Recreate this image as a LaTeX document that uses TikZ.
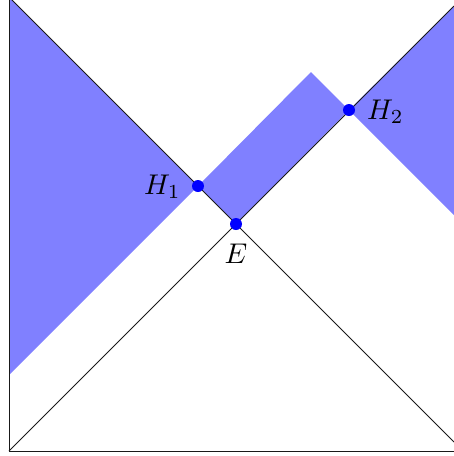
\documentclass[tikz,border=0pt]{standalone}
\begin{document}
\begin{tikzpicture}[x=1pt,y=-1pt,
  edge/.style={line width=0.9pt, black!90},
  region/.style={fill=blue!50},
  dot/.style={circle, fill=blue, inner sep=0pt, minimum size=12pt},
  lab/.style={inner sep=0pt}]
\useasboundingbox (0,0) rectangle (454,456);
% named points
\coordinate (BL) at (9,451);
\coordinate (BR) at (454,451);
\coordinate (TL) at (9,-3);
\coordinate (TR) at (454,6);
\coordinate (TLe) at (9,0);
\coordinate (DR) at (454,442);
\coordinate (E) at (236,224);
\coordinate (H1) at (198,186);
\coordinate (H2) at (349,110);
\coordinate (P) at (311,72);
\coordinate (Lf) at (9,375);
\coordinate (Rf) at (454,215);
% shaded regions
\fill[region] (TL) -- (H1) -- (Lf) -- cycle;
\fill[region] (H1) -- (P) -- (H2) -- (E) -- cycle;
\fill[region] (H2) -- (TR) -- (Rf) -- cycle;
% lines
\draw[edge] (TLe) -- (BL) -- (BR);
\draw[edge] (BL) -- (TR);
\draw[edge] (TL) -- (DR);
% points
\node[dot] (e) at (E) {};
\node[dot] (h1) at (H1) {};
\node[dot] (h2) at (H2) {};
\node[lab, anchor=base] (le) at (236,263) {\scalebox{2.85}{$E$}};
\node[lab, anchor=base west] (lh1) at (144,194) {\scalebox{2.85}{$H_1$}};
\node[lab, anchor=base west] (lh2) at (367,119) {\scalebox{2.85}{$H_2$}};
\end{tikzpicture}
\end{document}
